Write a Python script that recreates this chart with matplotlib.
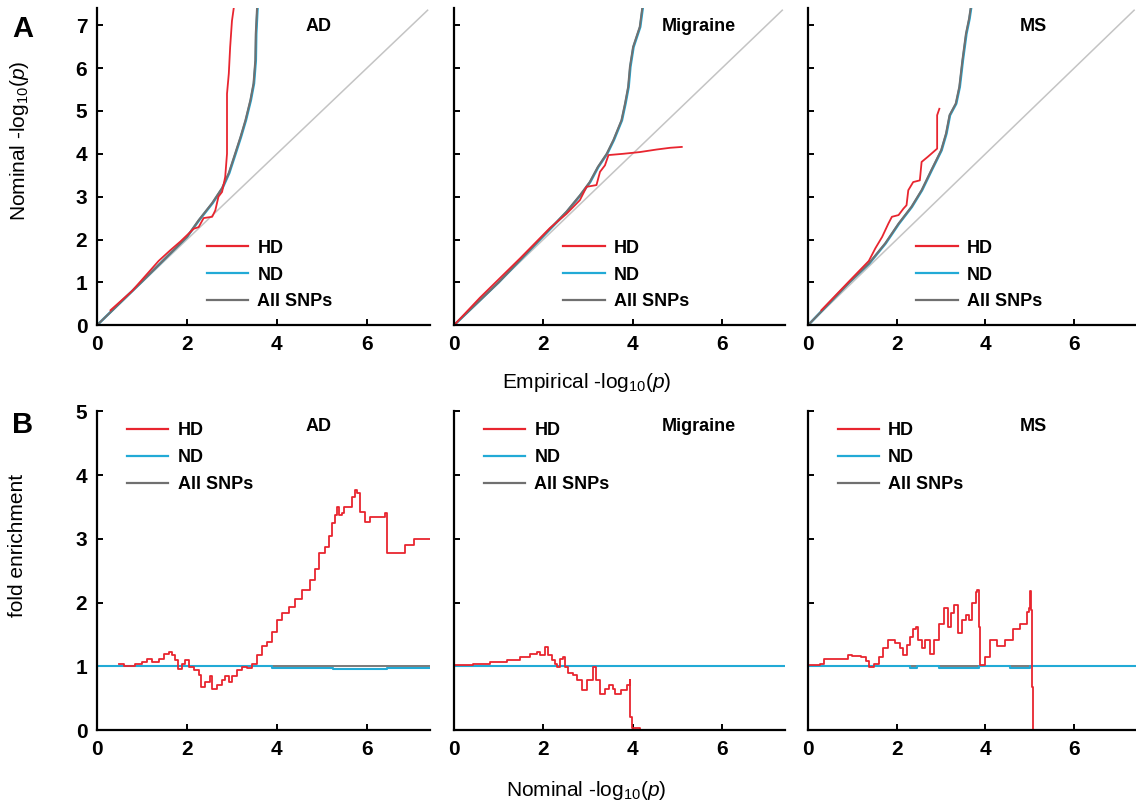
import matplotlib
matplotlib.use("Agg")
import matplotlib.pyplot as plt
from matplotlib.lines import Line2D

plt.rcParams['font.family'] = ['Liberation Sans', 'DejaVu Sans']
plt.rcParams['mathtext.fontset'] = 'custom'
plt.rcParams['mathtext.rm'] = 'Liberation Sans'
plt.rcParams['mathtext.it'] = 'Liberation Sans:italic'

RED = '#e8252f'
BLUE = '#22aad6'
GRAY = '#707070'
LIGHT = '#c4c4c4'

traits = ['AD', 'Migraine', 'MS']
series = ['HD', 'ND', 'All SNPs']

# ---- A: Q-Q curves (empirical vs nominal -log10 p) ----
qq_hd_x = {
    'AD': [0.3, 0.78, 1.37, 1.63, 1.85, 2.15, 2.26, 2.37, 2.56, 2.63, 2.70, 2.78, 2.85, 2.89, 2.89, 2.93, 2.96, 3.0, 3.04],
    'Migraine': [0.0, 0.58, 1.48, 2.15, 2.52, 2.82, 2.97, 3.19, 3.27, 3.38, 3.46, 3.79, 4.16, 4.54, 4.84, 5.1],
    'MS': [0.3, 0.93, 1.37, 1.52, 1.67, 1.81, 1.89, 2.04, 2.15, 2.22, 2.26, 2.37, 2.52, 2.56, 2.70, 2.91, 2.91, 2.96],
}
qq_hd_y = {
    'AD': [0.35, 0.8, 1.5, 1.75, 1.95, 2.25, 2.29, 2.5, 2.53, 2.68, 3.0, 3.11, 3.46, 4.0, 5.4, 5.87, 6.49, 7.1, 7.4],
    'Migraine': [0.0, 0.64, 1.56, 2.27, 2.6, 2.92, 3.23, 3.27, 3.58, 3.73, 3.97, 4.0, 4.04, 4.1, 4.14, 4.16],
    'MS': [0.35, 1.03, 1.5, 1.8, 2.06, 2.37, 2.53, 2.57, 2.72, 2.8, 3.15, 3.34, 3.38, 3.81, 3.93, 4.12, 4.9, 5.05],
}
qq_all_x = {
    'AD': [0.0, 1.0, 2.0, 2.26, 2.56, 2.78, 2.93, 3.07, 3.19, 3.30, 3.41, 3.48, 3.52, 3.53, 3.56],
    'Migraine': [0.0, 1.0, 2.15, 2.52, 2.82, 3.04, 3.22, 3.42, 3.57, 3.75, 3.83, 3.90, 3.94, 4.01, 4.16, 4.22],
    'MS': [0.0, 0.93, 1.37, 1.74, 2.04, 2.33, 2.56, 2.78, 3.0, 3.11, 3.19, 3.33, 3.41, 3.48, 3.56, 3.63, 3.67],
}
qq_all_y = {
    'AD': [0.0, 1.02, 2.06, 2.45, 2.85, 3.2, 3.55, 4.0, 4.39, 4.78, 5.25, 5.64, 6.18, 6.8, 7.43],
    'Migraine': [0.0, 1.0, 2.25, 2.65, 3.03, 3.34, 3.69, 4.0, 4.32, 4.78, 5.17, 5.56, 6.03, 6.49, 6.96, 7.43],
    'MS': [0.0, 1.0, 1.44, 1.91, 2.37, 2.76, 3.15, 3.62, 4.08, 4.47, 4.9, 5.17, 5.56, 6.18, 6.8, 7.15, 7.43],
}
# ND sits almost on top of All SNPs
qq_nd_x = {
    'AD': [0.0, 1.0, 2.0, 2.27, 2.57, 2.79, 2.94, 3.08, 3.20, 3.31, 3.42, 3.49, 3.53, 3.54, 3.57],
    'Migraine': [0.0, 1.0, 2.16, 2.53, 2.83, 3.05, 3.23, 3.43, 3.58, 3.76, 3.84, 3.91, 3.95, 4.02, 4.17, 4.23],
    'MS': [0.0, 0.93, 1.38, 1.75, 2.05, 2.34, 2.57, 2.79, 3.01, 3.12, 3.20, 3.34, 3.42, 3.49, 3.57, 3.64, 3.68],
}
qq_nd_y = qq_all_y
null_line = [0.0, 7.35]

# ---- B: fold enrichment vs nominal -log10 p ----
fe_hd_x = {
    'AD': [0.48, 0.6, 0.85, 1.0, 1.11, 1.22, 1.37, 1.48, 1.59, 1.67, 1.74, 1.81, 1.89, 1.96, 2.04, 2.15,
           2.26, 2.32, 2.41, 2.52, 2.56, 2.67, 2.78, 2.85, 2.93, 3.0, 3.11, 3.22, 3.33, 3.44, 3.56, 3.67,
           3.78, 3.89, 4.0, 4.11, 4.26, 4.41, 4.56, 4.74, 4.85, 4.93, 5.07, 5.15, 5.22, 5.30, 5.33, 5.37,
           5.44, 5.48, 5.59, 5.67, 5.74, 5.78, 5.85, 5.93, 5.96, 6.07, 6.33, 6.41, 6.44, 6.81, 6.84, 7.0,
           7.04, 7.4],
    'Migraine': [0.0, 0.43, 0.81, 1.18, 1.48, 1.70, 1.85, 1.93, 2.04, 2.11, 2.19, 2.26, 2.3, 2.37, 2.45,
                 2.49, 2.56, 2.67, 2.75, 2.86, 2.97, 3.12, 3.19, 3.27, 3.38, 3.46, 3.57, 3.6, 3.75, 3.87,
                 3.93, 3.94, 3.98, 4.16],
    'MS': [0.04, 0.26, 0.37, 0.70, 0.89, 1.0, 1.19, 1.30, 1.37, 1.48, 1.59, 1.70, 1.81, 1.96, 2.07, 2.15,
           2.22, 2.30, 2.37, 2.44, 2.48, 2.56, 2.63, 2.74, 2.85, 2.96, 3.07, 3.15, 3.22, 3.30, 3.37, 3.48,
           3.56, 3.63, 3.70, 3.78, 3.81, 3.85, 3.87, 4.0, 4.11, 4.26, 4.44, 4.63, 4.78, 4.93, 4.99, 5.0,
           5.02, 5.04, 5.07],
}
fe_hd_y = {
    'AD': [1.03, 1.0, 1.04, 1.07, 1.12, 1.07, 1.12, 1.19, 1.23, 1.18, 1.10, 0.96, 1.04, 1.10, 0.99, 0.94,
           0.86, 0.68, 0.76, 0.84, 0.64, 0.71, 0.78, 0.84, 0.76, 0.84, 0.94, 0.99, 0.97, 1.04, 1.18, 1.31,
           1.38, 1.54, 1.72, 1.83, 1.93, 2.05, 2.19, 2.35, 2.53, 2.77, 2.87, 3.05, 3.24, 3.37, 3.5, 3.37,
           3.40, 3.5, 3.5, 3.66, 3.76, 3.71, 3.42, 3.42, 3.27, 3.34, 3.34, 3.40, 2.77, 2.77, 2.9, 2.9,
           3.0, 3.0],
    'Migraine': [1.02, 1.04, 1.06, 1.10, 1.15, 1.19, 1.23, 1.18, 1.30, 1.18, 1.10, 1.04, 0.99, 1.12, 1.15,
                 0.99, 0.89, 0.86, 0.78, 0.63, 0.78, 0.99, 0.78, 0.57, 0.65, 0.71, 0.65, 0.57, 0.63, 0.71,
                 0.78, 0.21, 0.03, 0.02],
    'MS': [1.02, 1.04, 1.12, 1.12, 1.18, 1.16, 1.15, 1.09, 0.99, 1.04, 1.15, 1.28, 1.41, 1.36, 1.28, 1.18,
           1.33, 1.46, 1.59, 1.62, 1.41, 1.28, 1.41, 1.20, 1.41, 1.67, 1.91, 1.62, 1.83, 1.96, 1.52, 1.72,
           1.80, 1.72, 1.99, 2.17, 2.20, 1.62, 1.02, 1.15, 1.41, 1.31, 1.41, 1.59, 1.67, 1.85, 1.91, 2.18,
           1.88, 0.68, 0.0],
}
fe_nd_x = {
    'AD': [0.0, 3.9, 5.25, 6.45, 7.4],
    'Migraine': [0.0, 7.4],
    'MS': [0.0, 2.3, 2.45, 2.95, 3.85, 4.55, 5.0, 7.4],
}
fe_nd_y = {
    'AD': [1.0, 0.98, 0.95, 0.98, 0.98],
    'Migraine': [1.0, 1.0],
    'MS': [1.0, 0.98, 1.0, 0.98, 1.0, 0.98, 1.0, 1.0],
}
fe_all_x = [0.0, 7.4]
fe_all_y = [1.0, 1.0]

lefts = [0.0854, 0.3996, 0.7113]
widths = [0.293, 0.291, 0.289]
title_x = [0.665, 0.74, 0.685]

fig = plt.figure(figsize=(11.36, 8.07), dpi=100)


def style(ax, ylim, yticks, show_ylabels):
    ax.set_xlim(0, 7.4)
    ax.set_ylim(*ylim)
    ax.set_xticks([0, 2, 4, 6])
    ax.set_yticks(yticks)
    if not show_ylabels:
        ax.set_yticklabels([])
    for s in ['top', 'right']:
        ax.spines[s].set_visible(False)
    for s in ['left', 'bottom']:
        ax.spines[s].set_linewidth(1.6)
    ax.tick_params(direction='in', length=4, width=1.4, labelsize=15, pad=7)
    for lab in ax.get_xticklabels() + ax.get_yticklabels():
        lab.set_fontweight('bold')
    ax.patch.set_alpha(0)


handles = [Line2D([], [], color=RED, lw=1.6),
           Line2D([], [], color=BLUE, lw=1.6),
           Line2D([], [], color=GRAY, lw=1.6)]

for i, t in enumerate(traits):
    ax = fig.add_axes([lefts[i], 0.597, widths[i], 0.393])
    ax.plot(null_line, null_line, color=LIGHT, lw=1.1)
    ax.plot(qq_nd_x[t], qq_nd_y[t], color=BLUE, lw=1.8)
    ax.plot(qq_all_x[t], qq_all_y[t], color=GRAY, lw=1.5)
    ax.plot(qq_hd_x[t], qq_hd_y[t], color=RED, lw=1.3)
    style(ax, (0, 7.4), range(8), i == 0)
    ax.text(title_x[i], 0.943, t, transform=ax.transAxes,
            ha='center', va='center', fontsize=13, fontweight='bold')
    ax.legend(handles, series, loc='upper left', bbox_to_anchor=(0.33, 0.27), frameon=False,
              handlelength=2.3, handletextpad=0.5, labelspacing=0.55,
              borderpad=0, borderaxespad=0, prop={'weight': 'bold', 'size': 13})

    bx = fig.add_axes([lefts[i], 0.0954, widths[i], 0.395])
    bx.plot(fe_all_x, fe_all_y, color=GRAY, lw=1.3)
    bx.plot(fe_nd_x[t], fe_nd_y[t], color=BLUE, lw=1.5, drawstyle='steps-post')
    bx.plot(fe_hd_x[t], fe_hd_y[t], color=RED, lw=1.3, drawstyle='steps-post')
    style(bx, (0, 5), range(6), i == 0)
    bx.text(title_x[i], 0.953, t, transform=bx.transAxes,
            ha='center', va='center', fontsize=13, fontweight='bold')
    bx.legend(handles, series, loc='upper left', bbox_to_anchor=(0.09, 0.965), frameon=False,
              handlelength=2.3, handletextpad=0.5, labelspacing=0.55,
              borderpad=0, borderaxespad=0, prop={'weight': 'bold', 'size': 13})

W, H = 1136, 807
fig.text(12 / W, 1 - 29 / H, 'A', fontsize=21, fontweight='bold', va='center', ha='left')
fig.text(12 / W, 1 - 425 / H, 'B', fontsize=21, fontweight='bold', va='center', ha='left')
fig.text(20 / W, 1 - 141 / H, r'Nominal -log$_{10}$($p$)', rotation=90, fontsize=15,
         ha='center', va='center')
fig.text(18 / W, 1 - 545 / H, 'fold enrichment', rotation=90, fontsize=15,
         ha='center', va='center')
fig.text(587 / W, 1 - 383 / H, r'Empirical -log$_{10}$($p$)', fontsize=15, ha='center', va='center')
fig.text(586 / W, 1 - 790 / H, r'Nominal -log$_{10}$($p$)', fontsize=15, ha='center', va='center')

fig.savefig('out.png', dpi=100)
